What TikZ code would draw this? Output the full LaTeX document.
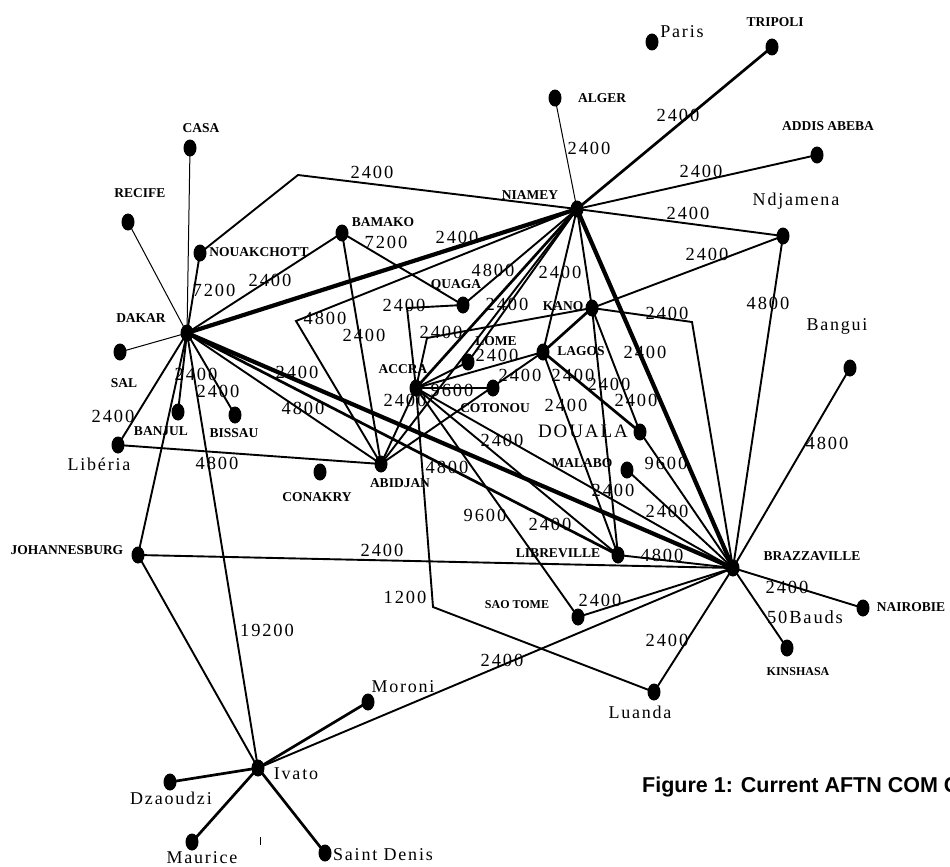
\documentclass[tikz,border=0pt]{standalone}
\usepackage{fontspec}
\setmainfont{Liberation Serif}
\newfontfamily\numf[LetterSpace=10]{Liberation Serif}
\newfontfamily\capsans{Liberation Sans}
\usetikzlibrary{shapes.geometric}
\tikzset{
  dot/.style={ellipse, fill=black, minimum width=13pt, minimum height=17pt, inner sep=0pt},
  num/.style={font=\numf\fontsize{18.5}{18.5}\selectfont, inner sep=0pt},
  capb/.style={font=\bfseries\fontsize{13.5}{13.5}\selectfont, inner sep=0pt},
  capsm/.style={font=\bfseries\fontsize{12}{12}\selectfont, inner sep=0pt},
  city/.style={font=\numf\fontsize{18}{18}\selectfont, inner sep=0pt},
  lthin/.style={line width=1pt},
  lmed/.style={line width=1.9pt},
  lsemi/.style={line width=2.7pt},
  lthick/.style={line width=4.2pt},
}
\begin{document}
\begin{tikzpicture}[x=1pt,y=-1pt]
\useasboundingbox[fill=white] (0,0) rectangle (950,867);
% ---- dots
\foreach \n/\x/\y in {paris/652/42, tripoli/772/47, alger/555/98, addis/817/155, niamey/577/209,
  ndjamena/783/236, casa/190/148, recife/128/222, nouak/200/253, bamako/342/233, dakar/187/333,
  sal/120/352, banjul/178/412, bissau/235/415, liberia/118/445, conakry/320/472, abidjan/381/464,
  quaga/463/305, kano/592/308, lome/468/362, lagos/543/352, accra/416/388, cotonou/493/388,
  douala/640/432, malabo/627/470, libreville/618/555, brazza/733/568, bangui/850/368,
  saotome/578/617, nairobie/863/608, kinshasa/787/648, luanda/654/692, johannes/138/555,
  moroni/368/702, ivato/258/768, dzaoudzi/170/782, maurice/192/842, saintdenis/325/853}
  {\node[dot] (\n) at (\x,\y) {};}
% ---- bend points
\coordinate (bn) at (298,175);
\coordinate (bv) at (296,321);
\coordinate (bq) at (407,308);
\coordinate (bk) at (427,338);
\coordinate (bkb) at (692,322);
\coordinate (bl) at (433,607);
% ---- connectors
\foreach \a/\b in {casa/dakar, recife/dakar, alger/niamey, sal/dakar}
  \draw[lthin] (\a.center) -- (\b.center);
\foreach \a/\b in {niamey/addis, niamey/ndjamena, niamey/kano, niamey/lagos, niamey/lome,
  niamey/quaga, niamey/abidjan, kano/ndjamena, ndjamena/brazza, kano/libreville, kano/douala,
  dakar/nouak, dakar/bamako, dakar/banjul, dakar/bissau, dakar/liberia, dakar/abidjan,
  dakar/johannes, dakar/ivato, bamako/quaga, bamako/abidjan, liberia/abidjan,
  accra/lome, accra/lagos, accra/cotonou, accra/abidjan, accra/brazza, accra/libreville,
  accra/saotome, abidjan/lagos, lagos/libreville, douala/brazza, malabo/brazza,
  libreville/brazza, bangui/brazza, saotome/brazza, johannes/brazza, johannes/ivato,
  ivato/brazza, brazza/nairobie, brazza/kinshasa, brazza/luanda}
  \draw[lmed] (\a.center) -- (\b.center);
\draw[lmed] (niamey.center) -- (bn) -- (nouak.center);
\draw[lmed] (niamey.center) -- (bv) -- (abidjan.center);
\draw[lmed] (accra.center) -- (bq) -- (quaga.center);
\draw[lmed] (accra.center) -- (bk) -- (kano.center);
\draw[lmed] (kano.center) -- (bkb) -- (brazza.center);
\draw[lmed] (accra.center) -- (bl) -- (luanda.center);
\foreach \a/\b in {niamey/tripoli, niamey/accra, kano/lagos, lagos/douala, dakar/libreville,
  ivato/moroni, ivato/dzaoudzi, ivato/maurice, ivato/saintdenis}
  \draw[lsemi] (\a.center) -- (\b.center);
\foreach \a/\b in {dakar/niamey, dakar/brazza, niamey/brazza}
  \draw[lthick] (\a.center) -- (\b.center);
\draw[line width=1pt] (260,837) -- (260,845);
% ---- link labels
\foreach \i/\x/\y/\t in {1/372/172/2400, 2/386/242/7200, 3/457/237/2400, 4/589/148/2400,
  5/678/115/2400, 6/701/171/2400, 7/688/213/2400, 8/707/254/2400, 9/768/303/4800,
  10/214/290/7200, 11/270/280/2400, 12/493/270/4800, 13/560/272/2400, 14/507/304/2400,
  15/404/305/2400, 16/325/318/4800, 17/364/335/2400, 18/441/332/2400, 19/667/313/2400,
  20/645/352/2400, 21/497/355/2400, 22/520/375/2400, 23/452/390/9600, 24/405/400/2400,
  25/573/375/2400, 26/609/384/2400, 27/636/400/2400, 28/566/405/2400, 29/297/372/2400,
  30/303/408/4800, 31/196/374/2400, 32/218/391/2400, 33/113/416/2400, 34/217/463/4800,
  35/447/467/4800, 36/502/440/2400, 37/666/463/9600, 38/613/490/2400, 39/667/511/2400,
  40/485/515/9600, 41/550/524/2400, 42/662/555/4800, 43/827/443/4800, 44/382/550/2400,
  45/405/597/1200, 46/600/600/2400, 47/787/587/2400, 48/805/617/50Bauds, 49/667/640/2400,
  50/502/660/2400, 51/267/630/19200}
  {\node[num] (lab\i) at (\x,\y) {\t};}
% ---- place names
\node[city] (tparis) at (682,32) {Paris};
\node[capb] (ttripoli) at (775,22) {TRIPOLI};
\node[capb] (talger) at (602,98) {ALGER};
\node[capb] (taddis) at (828,126) {ADDIS ABEBA};
\node[city] (tndjamena) at (796,201) {Ndjamena};
\node[capb] (tniamey) at (530,195) {NIAMEY};
\node[capb] (tcasa) at (201,128) {CASA};
\node[capb] (trecife) at (140,193) {RECIFE};
\node[capb] (tnouak) at (259,252) {NOUAKCHOTT};
\node[capb] (tbamako) at (383,222) {BAMAKO};
\node[capb] (tdakar) at (141,318) {DAKAR};
\node[capb] (tsal) at (124,383) {SAL};
\node[capb] (tbanjul) at (161,431) {BANJUL};
\node[capb] (tbissau) at (234,433) {BISSAU};
\node[city] (tliberia) at (99,464) {Libéria};
\node[capb] (tquaga) at (456,285) {QUAGA};
\node[capb] (tkano) at (563,306) {KANO};
\node[capb] (tlome) at (496,341) {LOME};
\node[capb] (tlagos) at (581,351) {LAGOS};
\node[capb] (taccra) at (403,369) {ACCRA};
\node[capb] (tcotonou) at (495,408) {COTONOU};
\node[font=\numf\fontsize{19}{19}\selectfont, inner sep=0pt] (tdouala) at (583,431) {DOUALA};
\node[capb] (tmalabo) at (582,463) {MALABO};
\node[capb] (tabidjan) at (400,483) {ABIDJAN};
\node[capb] (tconakry) at (317,497) {CONAKRY};
\node[capb] (tlibreville) at (558,553) {LIBREVILLE};
\node[capb] (tbrazza) at (812,556) {BRAZZAVILLE};
\node[city] (tbangui) at (837,326) {Bangui};
\node[capsm] (tsaotome) at (517,605) {SAO TOME};
\node[capb] (tnairobie) at (911,607) {NAIROBIE};
\node[capsm] (tkinshasa) at (798,672) {KINSHASA};
\node[city] (tluanda) at (640,712) {Luanda};
\node[capb] (tjohannes) at (67,550) {JOHANNESBURG};
\node[city] (tmoroni) at (403,687) {Moroni};
\node[city] (tivato) at (296,774) {Ivato};
\node[city] (tdzaoudzi) at (171,798) {Dzaoudzi};
\node[city] (tmaurice) at (202,858) {Maurice};
\node[city] (tsaintdenis) at (383,855) {Saint Denis};
% ---- caption
\node[font=\capsans\bfseries\fontsize{21.5}{21.5}\selectfont, inner sep=0pt, anchor=west] (caption) at (642,787) {Figure 1: Current AFTN COM C};
\end{tikzpicture}
\end{document}
